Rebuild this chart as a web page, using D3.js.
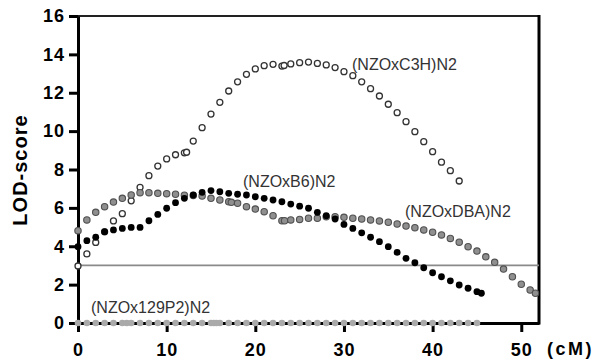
<!DOCTYPE html>
<html>
<head>
<meta charset="utf-8">
<script src="https://cdn.jsdelivr.net/npm/d3@7"></script>
<style>
  body { margin: 0; background: #fff; }
  svg { display: block; font-family: "Liberation Sans", Arial, sans-serif; }
</style>
</head>
<body>
<div id="chart"></div>
<script>
// values (cM, LOD)
const c3hCm  = [0,1,2,3,4,5,6,7,8,9,10,11,12,12.25,13,14,15,16,17,18,19,20,21,22,23,23.25,24,25,26,27,28,29,30,31,32,33,34,35,36,37,38,39,40,41,42,43];
const c3hLod = [2.97,3.6,4.2,4.75,5.32,5.7,6.37,7.07,7.68,8.18,8.55,8.77,8.87,8.9,9.48,10.18,10.89,11.5,12.09,12.57,12.96,13.24,13.41,13.48,13.39,13.42,13.5,13.57,13.6,13.53,13.45,13.31,13.1,12.89,12.57,12.21,11.83,11.4,10.96,10.49,9.97,9.45,8.93,8.38,7.94,7.4];

const b6Cm  = [0,1,2,3,4,5,6,7,8,9,10,11,12,13,14,15,16,17,18,19,20,21,22,23,24,25,26,27,28,29,30,31,32,33,34,35,36,37,38,39,40,41,42,43,44,45,45.5];
const b6Lod = [3.98,4.29,4.47,4.76,4.85,4.93,4.98,4.98,5.33,5.66,5.98,6.27,6.5,6.67,6.81,6.9,6.84,6.76,6.71,6.67,6.58,6.5,6.41,6.32,6.2,6.09,5.98,5.77,5.59,5.42,5.14,4.93,4.7,4.47,4.24,3.98,3.68,3.37,3.14,2.88,2.62,2.41,2.2,1.98,1.81,1.63,1.55];

const dbaCm  = [0,1,2,3,4,5,6,7,8,9,10,11,12,13,14,15,16,17,17.3,18,19,20,21,22,23,23.3,24,25,26,27,28,29,30,31,32,33,34,35,36,37,38,39,40,41,42,43,44,45,46,47,48,49,50,51,51.6];
const dbaLod = [4.81,5.37,5.77,6.06,6.3,6.5,6.67,6.79,6.79,6.76,6.74,6.71,6.66,6.65,6.62,6.5,6.41,6.32,6.29,6.24,6.06,5.94,5.8,5.59,5.33,5.33,5.37,5.4,5.46,5.46,5.54,5.54,5.51,5.46,5.42,5.37,5.32,5.25,5.16,5.05,4.97,4.85,4.73,4.59,4.41,4.21,3.98,3.75,3.45,3.16,2.81,2.41,2.02,1.72,1.55];

const p129Cm  = [0,1,2,3,4,5,5.5,6,7,8,9,10,11,12,13,14,15,15.3,15.6,16,17,18,19,20,21,22,23,24,25,26,27,28,29,30,31,32,33,34,35,36,37,38,39,40,41,42,43,44,45];
const p129Lod = p129Cm.map(() => 0);

const xTicks = [0, 10, 20, 30, 40, 50];
const yTicks = [0, 2, 4, 6, 8, 10, 12, 14, 16];
const threshold = 3;

const W = 595, H = 364;
const margin = { top: 16, right: 56, bottom: 41, left: 78 };

const svg = d3.select('#chart').append('svg')
  .attr('width', W).attr('height', H);

const x = d3.scaleLinear().domain([0, 52]).range([margin.left, W - margin.right]);
const y = d3.scaleLinear().domain([0, 16]).range([H - margin.bottom, margin.top]);

// frame top / right
svg.append('line')
  .attr('x1', x(0)).attr('x2', x(52)).attr('y1', y(16)).attr('y2', y(16))
  .attr('stroke', '#222').attr('stroke-width', 2);
svg.append('line')
  .attr('x1', x(52)).attr('x2', x(52)).attr('y1', y(16) - 1).attr('y2', y(0) + 1.5)
  .attr('stroke', '#000').attr('stroke-width', 3);

// threshold
svg.append('line')
  .attr('x1', x(0)).attr('x2', x(52)).attr('y1', y(threshold)).attr('y2', y(threshold))
  .attr('stroke', '#8a8a8a').attr('stroke-width', 1.8);

svg.append('g')
  .attr('transform', `translate(${x(0)},0)`)
  .call(d3.axisLeft(y).tickValues(yTicks).tickSize(9).tickSizeOuter(0).tickPadding(4));

svg.append('g')
  .attr('transform', `translate(0,${y(0)})`)
  .call(d3.axisBottom(x).tickValues(xTicks).tickSize(9).tickSizeOuter(0).tickPadding(11));

svg.selectAll('.domain').attr('stroke', '#000').attr('stroke-width', 3);
svg.selectAll('.tick line').attr('stroke', '#000').attr('stroke-width', 3);
svg.selectAll('.tick text')
  .attr('fill', '#000')
  .style('font-size', '18px')
  .style('font-weight', 'bold')
  .style('letter-spacing', '1px');

svg.append('text')
  .attr('x', 547).attr('y', y(0) + 32)
  .style('font-size', '18px').style('font-weight', 'bold').style('letter-spacing', '2.5px')
  .text('(cM)');

svg.append('text')
  .attr('transform', `translate(27,170) rotate(-90)`)
  .attr('text-anchor', 'middle')
  .style('font-size', '20px').style('font-weight', 'bold').style('letter-spacing', '1px')
  .text('LOD-score');

function dots(xs, ys, r, fill, stroke, sw) {
  svg.append('g').selectAll('circle')
    .data(xs.map((d, i) => [d, ys[i]]))
    .join('circle')
    .attr('cx', d => x(d[0]))
    .attr('cy', d => y(d[1]))
    .attr('r', r)
    .attr('fill', fill)
    .attr('stroke', stroke)
    .attr('stroke-width', sw);
}

dots(c3hCm, c3hLod, 3, '#fff', '#333', 1.3);
dots(dbaCm, dbaLod, 3.2, '#8f8f8f', '#505050', 1.1);
dots(b6Cm, b6Lod, 3.4, '#000', 'none', 0);
dots(p129Cm, p129Lod, 3.3, '#aaaaaa', 'none', 0);

const labels = [
  { t: '(NZOxC3H)N2', x: 352, y: 70 },
  { t: '(NZOxB6)N2', x: 243, y: 187 },
  { t: '(NZOxDBA)N2', x: 405, y: 217 },
  { t: '(NZOx129P2)N2', x: 91, y: 313 }
];
svg.append('g').selectAll('text')
  .data(labels)
  .join('text')
  .attr('x', d => d.x).attr('y', d => d.y)
  .attr('fill', '#333')
  .style('font-size', '16px')
  .text(d => d.t);
</script>
</body>
</html>
